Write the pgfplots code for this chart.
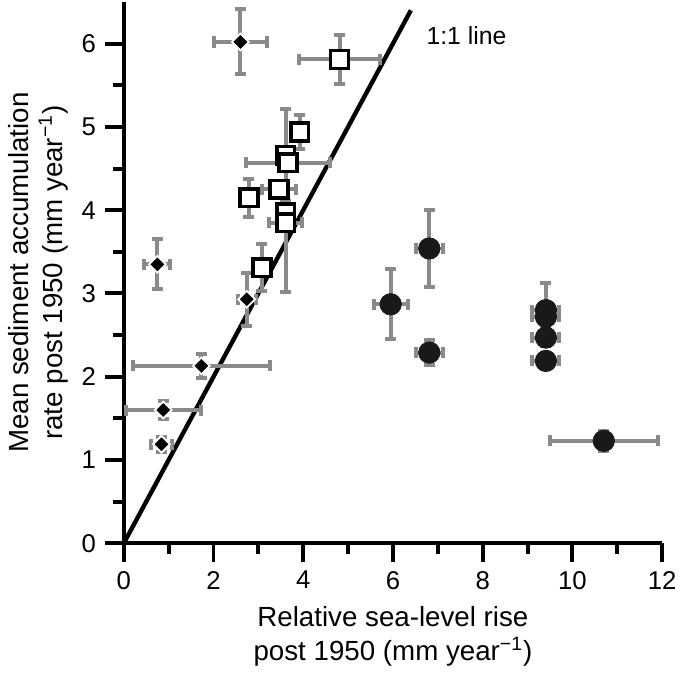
\documentclass[border=0pt]{standalone}
\usepackage{fontspec}
\setmainfont{Liberation Sans}
\usepackage{pgfplots}
\pgfplotsset{compat=1.18}
\definecolor{errgray}{HTML}{8A8A8A}

% x y ex ey
\pgfplotstableread{
x     y     ex    ey
2.60  6.02  0.59  0.39
0.75  3.35  0.29  0.30
2.74  2.93  0.20  0.32
1.73  2.13  1.52  0.14
0.88  1.60  0.84  0.11
0.84  1.19  0.23  0.09
}\diamonds

\pgfplotstableread{
x     y     ex    ey
4.81  5.81  0.90  0.29
3.92  4.94  0.10  0.20
3.61  4.66  0.10  0.55
3.66  4.57  0.93  0.10
3.46  4.25  0.37  0.10
2.79  4.15  0.08  0.23
3.61  3.97  0.10  0.10
3.61  3.85  0.37  0.83
3.08  3.31  0.10  0.28
}\squares

\pgfplotstableread{
x      y     ex    ey
6.81   3.54  0.30  0.46
5.95   2.87  0.38  0.42
6.81   2.29  0.30  0.15
9.41   2.80  0.30  0.33
9.41   2.72  0.30  0.10
9.41   2.47  0.30  0.10
9.41   2.19  0.30  0.10
10.70  1.23  1.20  0.12
}\circles

\begin{document}
\fontsize{13}{16}\selectfont
\begin{tikzpicture}
\begin{axis}[
  scale only axis, width=271bp, height=272.5bp,
  xmin=0, xmax=12, ymin=0, ymax=6.5,
  axis lines=left, axis line style={-, line width=2bp},
  xtick={0,2,...,12}, ytick={0,1,...,6},
  minor x tick num=1, minor y tick num=1,
  tick align=outside, major tick length=9.5bp, minor tick length=5.3bp,
  tick style={black, line width=2bp},
  /pgf/number format/assume math mode=true,
  tick label style={font=\fontsize{13}{16}\selectfont},
  label style={font=\fontsize{14}{17}\selectfont, align=center},
  xlabel={Relative sea-level rise\\post 1950 (mm year\textsuperscript{−1})},
  ylabel={Mean sediment accumulation\\rate post 1950 (mm year\textsuperscript{−1})},
  ylabel shift=-2bp,
  clip=false,
  error bars/error bar style={errgray, line width=2bp},
  error bars/error mark options={rotate=90, errgray, mark size=2.8pt, line width=2bp},
]
\addplot[black, line width=2.2bp] coordinates {(0,0) (6.4,6.4)};
\node[anchor=west, font=\fontsize{12.5}{15}\selectfont] at (axis cs:6.55,6.1) {1:1 line};

\addplot[only marks, mark=square*, mark options={rotate=45, fill=black, draw=white, line width=0.9pt}, mark size=3.0pt,
  error bars/.cd, x dir=both, x explicit, y dir=both, y explicit]
  table[x=x, y=y, x error=ex, y error=ey] {\diamonds};

\addplot[only marks, mark=square*, mark options={fill=white, draw=black, line width=1.8pt}, mark size=4.5pt,
  error bars/.cd, x dir=both, x explicit, y dir=both, y explicit]
  table[x=x, y=y, x error=ex, y error=ey] {\squares};

\addplot[only marks, mark=*, mark options={fill=black!90, draw=black!90}, mark size=5.4pt,
  error bars/.cd, x dir=both, x explicit, y dir=both, y explicit]
  table[x=x, y=y, x error=ex, y error=ey] {\circles};
\end{axis}
\end{tikzpicture}
\end{document}
